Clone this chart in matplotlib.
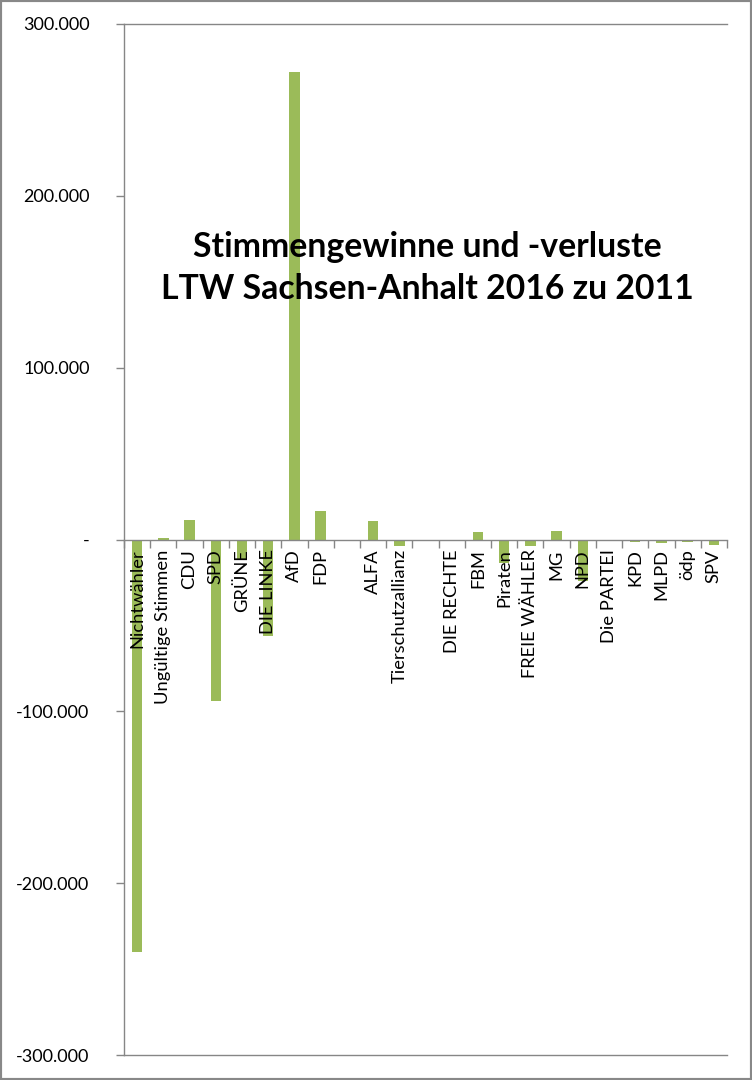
import numpy as np
import matplotlib
matplotlib.use("Agg")
import matplotlib.pyplot as plt
from matplotlib.patches import Rectangle
from matplotlib.ticker import FuncFormatter, FixedLocator

#====================
# Data
#====================
parties = ["Nichtwähler", "Ungültige Stimmen", "CDU", "SPD", "GRÜNE", "DIE LINKE",
           "AfD", "FDP", "", "ALFA", "Tierschutzallianz", "", "DIE RECHTE", "FBM",
           "Piraten", "FREIE WÄHLER", "MG", "NPD", "Die PARTEI", "KPD", "MLPD",
           "ödp", "SPV"]
changes = [-239800, 600, 11200, -94200, -11100, -56300,
           272200, 16500, 0, 10700, -3900, 0, 0, 4300,
           -13600, -3900, 4800, -24000, 0, -1500, -2100,
           -1500, -3300]
y_ticks = [-300000, -200000, -100000, 0, 100000, 200000, 300000]
title = "Stimmengewinne und -verluste\nLTW Sachsen-Anhalt 2016 zu 2011"

bar_color = "#9BBB59"
axis_color = "#868686"

plt.rcParams['font.family'] = ['Lato', 'DejaVu Sans']

#====================
# Figure
#====================
fig = plt.figure(figsize=(7.52, 10.8), dpi=100)
ax = fig.add_axes([124 / 752, 25 / 1080, 603 / 752, 1031 / 1080])

x = np.arange(len(parties))
ax.bar(x, changes, width=0.4, color=bar_color, zorder=1)

ax.set_xlim(-0.5, len(parties) - 0.5)
ax.set_ylim(-300000, 300000)

# x axis sits on the zero line
ax.spines['bottom'].set_position(('data', 0))
ax.spines['right'].set_visible(False)
for s in ['bottom', 'top', 'left']:
    ax.spines[s].set_color(axis_color)
    ax.spines[s].set_linewidth(1.0)
ax.axhline(-300000, color=axis_color, lw=1.0, clip_on=False)

ax.set_xticks(x)
ax.set_xticklabels(parties, rotation=90, fontsize=13.2, va='top')
ax.xaxis.set_minor_locator(FixedLocator(np.arange(len(parties) + 1) - 0.5))
ax.tick_params(axis='x', which='major', length=0, pad=7)
ax.tick_params(axis='x', which='minor', length=5.5, color=axis_color, width=1.0)

def fmt(v, pos):
    if v == 0:
        return "-"
    return f"{v:,.0f}".replace(",", ".")

ax.set_yticks(y_ticks)
ax.yaxis.set_major_formatter(FuncFormatter(fmt))
ax.tick_params(axis='y', length=5.8, color=axis_color, width=1.0, labelsize=13, pad=19)

fig.text(427 / 752, 1 - 268 / 1080, title, ha='center', va='center',
         fontsize=24.3, fontweight='bold', linespacing=1.35)

# outer frame
fig.patches.append(Rectangle((0, 0), 1, 1, transform=fig.transFigure, fill=False,
                             edgecolor="#888888", lw=3.0))

fig.savefig("out.png", dpi=100)
